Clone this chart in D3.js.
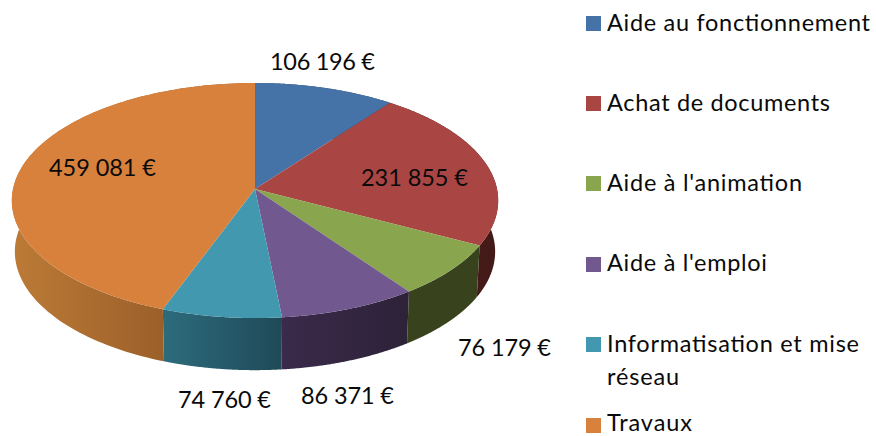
<!DOCTYPE html>
<html><head><meta charset="utf-8">
<script src="https://cdn.jsdelivr.net/npm/d3@7"></script>
<style>html,body{margin:0;padding:0;background:#fff}svg{display:block}text{font-family:Lato,sans-serif;fill:#0a0a0a}</style>
</head><body><svg id="c" width="876" height="436"></svg>
<script>
const categories=["Aide au fonctionnement","Achat de documents","Aide à l'animation","Aide à l'emploi","Informatisation et mise réseau","Travaux"];
const values=[106196,231855,76179,86371,74760,459081];
const valueLabels=["106 196 €","231 855 €","76 179 €","86 371 €","74 760 €","459 081 €"];
const colors=["#4572A7","#A94644","#89A54E","#71588F","#4198AF","#D8813C"];
const sideFrom=["#2a4464","#4a1e1c","#38421c","#3b2a4b","#2d6b7c","#bb7a36"];
const sideTo=["#2a4464","#431a18","#38421c","#2d2238","#1f4a58","#9b5f29"];
const labelPos=[[270,70,105],[361,186,107],[458,356,93],[301,404,93],[178,408,93],[49,176,107]];
const legendLines=[["Aide au fonctionnement"],["Achat de documents"],["Aide à l'animation"],["Aide à l'emploi"],["Informatisation et mise","réseau"],["Travaux"]];
const legendWidths=[[263],[223],[195],[160],[252,72],[85]];
const legendY=[16,96,176,257,337,418];
const legendBaselines=[[31],[111],[191],[271],[352,385],[431]];

const svg=d3.select("#c");
const k=0.098;
const project=(a,cy,rx,ry)=>{const u=Math.sin(a),v=-Math.cos(a),w=1-k*v;return [255+rx*u/w,cy+ry*v/w];};
const top_=a=>project(a,189,242,116.4);
const bot=a=>project(a,240,239,117.4);
const arcs=d3.pie().sort(null).value(d=>d)(values);
const line=d3.line();
const samples=(s,e)=>d3.range(0,121).map(i=>s+(e-s)*i/120);

const defs=svg.append("defs");
arcs.forEach((d,i)=>{
  const xs=samples(d.startAngle,d.endAngle).map(a=>bot(a)[0]);
  const g=defs.append("linearGradient").attr("id","s"+i).attr("gradientUnits","userSpaceOnUse")
    .attr("x1",i===5?15:d3.min(xs)).attr("x2",i===5?165:d3.max(xs)).attr("y1",0).attr("y2",0);
  g.append("stop").attr("offset",0).attr("stop-color",sideFrom[i]);
  g.append("stop").attr("offset",1).attr("stop-color",sideTo[i]);
});
arcs.forEach((d,i)=>{
  const as=samples(d.startAngle,d.endAngle);
  const quads=as.slice(1).map((a,j)=>line([top_(as[j]),top_(a),bot(a),bot(as[j])])+"Z").join("");
  svg.append("path").attr("d",quads).attr("fill",`url(#s${i})`).attr("fill-rule","nonzero");
});
arcs.forEach((d,i)=>{
  const as=samples(d.startAngle,d.endAngle);
  const pts=[[255,189]].concat(as.map(top_));
  svg.append("path").attr("d",line(pts)+"Z").attr("fill",colors[i]);
});
labelPos.forEach((p,i)=>{
  svg.append("text").attr("x",p[0]).attr("y",p[1]).attr("font-size",23.5)
    .attr("textLength",p[2]).attr("lengthAdjust","spacing").text(valueLabels[i]);
});
legendLines.forEach((ls,i)=>{
  svg.append("rect").attr("x",586).attr("y",legendY[i]).attr("width",15).attr("height",15).attr("fill",colors[i]);
  ls.forEach((t,j)=>{
    svg.append("text").attr("x",607).attr("y",legendBaselines[i][j]).attr("font-size",23.5)
      .attr("textLength",legendWidths[i][j]).attr("lengthAdjust","spacing").text(t);
  });
});
</script></body></html>
